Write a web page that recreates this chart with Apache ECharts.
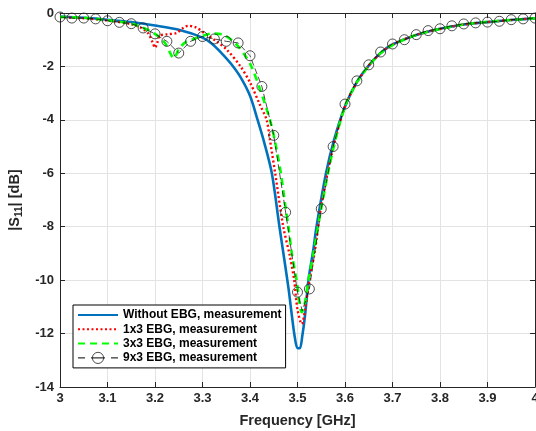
<!DOCTYPE html>
<html><head><meta charset="utf-8">
<script src="https://cdn.jsdelivr.net/npm/echarts@6/dist/echarts.min.js"></script>
<style>html,body{margin:0;padding:0;background:#fff;overflow:hidden}#c{width:536px;height:431px}</style>
</head><body><div id="c"></div>
<script>
// ---- data ----
const xTicks = [3, 3.1, 3.2, 3.3, 3.4, 3.5, 3.6, 3.7, 3.8, 3.9, 4];
const yTicks = [0, -2, -4, -6, -8, -10, -12, -14];

const seriesNames = ['Without EBG, measurement', '1x3 EBG, measurement', '3x3 EBG, measurement', '9x3 EBG, measurement'];

const blueF = [3.00,3.05,3.10,3.15,3.20,3.25,3.30,3.32,3.34,3.36,3.38,3.40,3.416,3.43,3.446,3.462,3.472,3.481,3.488,3.494,3.50,3.505,3.51,3.516,3.523,3.533,3.54,3.56,3.577,3.60,3.625,3.65,3.675,3.70,3.75,3.80,3.85,3.90,3.95,4.00];
const blueY = [-0.13,-0.18,-0.25,-0.34,-0.47,-0.63,-0.92,-1.15,-1.5,-1.9,-2.4,-3.1,-4.0,-4.85,-6.0,-8.0,-9.2,-10.3,-11.3,-12.1,-12.55,-12.55,-12.1,-11.3,-10.0,-8.9,-8.0,-6.0,-4.75,-3.5,-2.58,-1.97,-1.5,-1.18,-0.82,-0.59,-0.43,-0.34,-0.26,-0.2];

const redF = [3.00,3.05,3.10,3.15,3.17,3.185,3.195,3.20,3.205,3.21,3.225,3.245,3.26,3.27,3.285,3.305,3.33,3.35,3.38,3.40,3.42,3.435,3.442,3.453,3.47,3.484,3.493,3.50,3.509,3.516,3.525,3.537,3.55,3.575,3.60,3.625,3.65,3.675,3.70,3.75,3.80,3.85,3.90,3.95,4.00];
const redY = [-0.15,-0.2,-0.28,-0.42,-0.55,-0.75,-1.1,-1.3,-1.1,-0.85,-0.8,-0.75,-0.55,-0.48,-0.53,-0.76,-1.07,-1.35,-2.0,-2.6,-3.4,-4.0,-4.75,-6.0,-8.0,-9.1,-10.0,-11.1,-11.64,-11.1,-10.0,-8.86,-7.2,-5.05,-3.5,-2.6,-1.97,-1.5,-1.18,-0.82,-0.6,-0.43,-0.34,-0.26,-0.2];

const greenF = [3.00,3.05,3.10,3.15,3.175,3.20,3.22,3.235,3.24,3.25,3.265,3.28,3.30,3.32,3.345,3.37,3.39,3.403,3.42,3.442,3.452,3.465,3.475,3.481,3.488,3.498,3.509,3.515,3.523,3.535,3.55,3.575,3.60,3.625,3.65,3.675,3.70,3.75,3.80,3.85,3.90,3.95,4.00];
const greenY = [-0.15,-0.18,-0.27,-0.4,-0.55,-0.78,-1.1,-1.6,-1.7,-1.35,-1.08,-0.98,-0.86,-0.77,-0.82,-1.15,-1.6,-2.0,-2.8,-4.0,-4.75,-6.0,-7.3,-8.0,-9.0,-10.0,-11.2,-10.9,-10.0,-8.86,-7.3,-5.1,-3.5,-2.6,-1.98,-1.5,-1.2,-0.82,-0.6,-0.43,-0.33,-0.26,-0.2];

const nineF = [3.000,3.025,3.050,3.075,3.100,3.125,3.150,3.175,3.200,3.225,3.250,3.275,3.300,3.325,3.350,3.375,3.400,3.425,3.450,3.475,3.500,3.510,3.525,3.550,3.575,3.600,3.625,3.650,3.675,3.700,3.725,3.750,3.775,3.800,3.825,3.850,3.875,3.900,3.925,3.950,3.975,4.000];
const nineY = [-0.15,-0.19,-0.19,-0.22,-0.29,-0.35,-0.40,-0.56,-0.78,-1.06,-1.5,-1.06,-0.88,-0.97,-1.06,-1.12,-1.6,-2.75,-4.58,-7.46,-10.45,-11.15,-10.33,-7.33,-5.0,-3.41,-2.54,-1.94,-1.46,-1.16,-1.0,-0.81,-0.66,-0.59,-0.48,-0.41,-0.37,-0.34,-0.31,-0.25,-0.22,-0.19];
const nineNoMarker = [3.510];

// ---- chart ----
const pairs = (f, y) => f.map((v, i) => [v, y[i]]);
const nineData = nineF.map((v, i) => nineNoMarker.includes(v)
  ? { value: [v, nineY[i]], symbol: 'none' }
  : { value: [v, nineY[i]] });

const FONT = '"Liberation Sans", Arial, sans-serif';
const axisCol = '#262626';
const gridCol = '#e3e3e3';
const hidden = { color: 'rgba(0,0,0,0)', borderWidth: 0, opacity: 0 };

const chart = echarts.init(document.getElementById('c'), null, { renderer: 'canvas' });
chart.setOption({
  animation: false,
  backgroundColor: '#fff',
  grid: { left: 60, right: 1, top: 13, bottom: 44, containLabel: false, outerBoundsMode: 'none' },
  xAxis: [{
    type: 'value', min: xTicks[0], max: xTicks[xTicks.length - 1], interval: 0.1,
    position: 'bottom',
    name: 'Frequency [GHz]', nameLocation: 'middle', nameGap: 26,
    nameTextStyle: { fontFamily: FONT, fontWeight: 'bold', fontSize: 14.5, color: axisCol },
    axisLine: { onZero: false, lineStyle: { color: axisCol, width: 1 } },
    axisTick: { inside: true, length: 5, lineStyle: { color: axisCol } },
    axisLabel: { margin: 5, fontFamily: FONT, fontWeight: 'bold', fontSize: 13, color: axisCol, hideOverlap: false,
      formatter: v => { const r = Math.round(v * 10) / 10; return xTicks.includes(r) ? String(r) : ''; } },
    splitLine: { show: true, lineStyle: { color: gridCol, width: 1 } }
  }, {
    type: 'value', min: xTicks[0], max: xTicks[xTicks.length - 1], interval: 0.1,
    position: 'top',
    axisLine: { onZero: false, lineStyle: { color: axisCol, width: 1 } },
    axisTick: { inside: true, length: 5, lineStyle: { color: axisCol } },
    axisLabel: { show: false }, splitLine: { show: false }
  }],
  yAxis: [{
    type: 'value', min: yTicks[yTicks.length - 1], max: yTicks[0], interval: 2,
    position: 'left',
    name: '|S{sub|11}| [dB]', nameLocation: 'middle', nameGap: 36, nameRotate: 90,
    nameTextStyle: { fontFamily: FONT, fontWeight: 'bold', fontSize: 14.5, color: axisCol,
      rich: { sub: { fontFamily: FONT, fontWeight: 'bold', fontSize: 10, color: axisCol, verticalAlign: 'bottom', padding: [8, 0, 0, 0] } } },
    axisLine: { onZero: false, lineStyle: { color: axisCol, width: 1 } },
    axisTick: { inside: true, length: 5, lineStyle: { color: axisCol } },
    axisLabel: { margin: 6, fontFamily: FONT, fontWeight: 'bold', fontSize: 13, color: axisCol },
    splitLine: { show: true, lineStyle: { color: gridCol, width: 1 } }
  }, {
    type: 'value', min: yTicks[yTicks.length - 1], max: yTicks[0], interval: 2,
    position: 'right',
    axisLine: { onZero: false, lineStyle: { color: axisCol, width: 1 } },
    axisTick: { inside: true, length: 5, lineStyle: { color: axisCol } },
    axisLabel: { show: false }, splitLine: { show: false }
  }],
  legend: {
    orient: 'vertical', left: 73, top: 305,
    itemWidth: 40, itemHeight: 14, itemGap: 2.3,
    padding: [4, 4, 4, 4],
    borderColor: '#000', borderWidth: 1, backgroundColor: '#fff',
    textStyle: { fontFamily: FONT, fontWeight: 'bold', fontSize: 12, color: '#000' },
    data: [
      { name: seriesNames[0], itemStyle: hidden },
      { name: seriesNames[1], itemStyle: hidden },
      { name: seriesNames[2], itemStyle: hidden },
      { name: seriesNames[3], lineStyle: { width: 1, type: [7, 6, 14, 6, 7, 100], color: '#000' },
        itemStyle: { color: 'rgba(0,0,0,0)', borderColor: '#222', borderWidth: 0.8 } }
    ]
  },
  series: [
    { name: seriesNames[0], type: 'line', data: pairs(blueF, blueY), symbol: 'none', smooth: 0.3,
      lineStyle: { color: '#0072BD', width: 2.6 }, itemStyle: { color: '#0072BD' }, z: 2 },
    { name: seriesNames[1], type: 'line', data: pairs(redF, redY), symbol: 'none', smooth: 0.3,
      lineStyle: { color: '#ff0000', width: 2.4, type: [2, 2.5] }, itemStyle: { color: '#ff0000' }, z: 3 },
    { name: seriesNames[2], type: 'line', data: pairs(greenF, greenY), symbol: 'none', smooth: 0.3,
      lineStyle: { color: '#00ff00', width: 2.6, type: [7, 5] }, itemStyle: { color: '#00ff00' }, z: 4 },
    { name: seriesNames[3], type: 'line', data: nineData, symbol: 'circle', symbolSize: 10, showSymbol: true,
      showAllSymbol: true, clip: false,
      lineStyle: { color: '#000', width: 0.7, type: [6, 3] },
      itemStyle: { color: 'rgba(0,0,0,0)', borderColor: '#222', borderWidth: 0.8 }, z: 5 }
  ]
});
</script></body></html>
